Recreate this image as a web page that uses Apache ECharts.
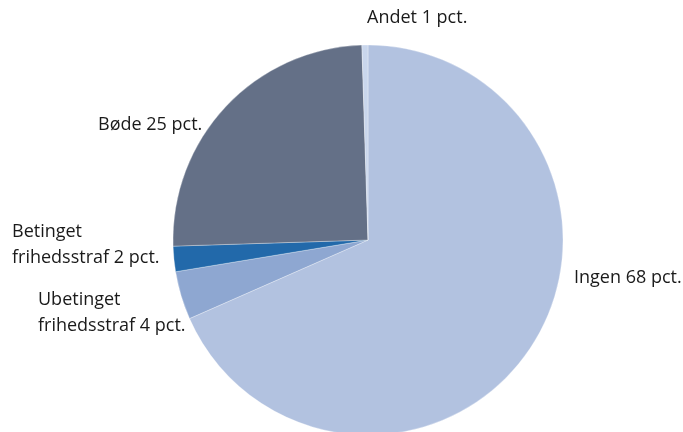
<!DOCTYPE html>
<html>
<head>
<meta charset="utf-8">
<script src="https://cdn.jsdelivr.net/npm/echarts@6/dist/echarts.min.js"></script>
<style>
  html, body { margin: 0; padding: 0; background: #fff; }
  #chart { width: 683px; height: 432px; }
</style>
</head>
<body>
<div id="chart"></div>
<script>
// slices, clockwise from 12 o'clock
const categories = ['Ingen', 'Ubetinget\nfrihedsstraf', 'Betinget\nfrihedsstraf', 'Bøde', 'Andet'];
const shares = [68.4, 4.0, 2.1, 25.0, 0.5];
const labelTexts = ['Ingen 68 pct.', 'Ubetinget\nfrihedsstraf 4 pct.', 'Betinget\nfrihedsstraf 2 pct.', 'Bøde 25 pct.', 'Andet 1 pct.'];

const colors = ['#b2c2e0', '#8ea7d1', '#2269aa', '#647087', '#c9d6ec'];
// label anchor (left, middle) per slice
const labelSpots = [[574, 278], [38, 313], [12, 245], [98, 125], [367, 18]];

const chart = echarts.init(document.getElementById('chart'));

chart.setOption({
  animation: false,
  series: [
    {
      type: 'pie',
      center: [368, 240],
      radius: 195,
      startAngle: 90,
      clockwise: true,
      data: categories.map((name, i) => ({
        name,
        value: shares[i],
        itemStyle: { color: colors[i] }
      })),
      itemStyle: { borderColor: 'rgba(255,255,255,0.6)', borderWidth: 0.5 },
      label: {
        show: true,
        position: 'outside',
        formatter: p => labelTexts[p.dataIndex],
        color: '#1a1a1a',
        fontFamily: 'Open Sans',
        fontSize: 18,
        lineHeight: 26,
        align: 'left',
        overflow: 'none'
      },
      labelLine: { show: false },
      labelLayout: params => ({
        x: labelSpots[params.dataIndex][0],
        y: labelSpots[params.dataIndex][1],
        align: 'left',
        verticalAlign: 'middle'
      }),
      emphasis: { disabled: true }
    }
  ]
});
</script>
</body>
</html>
